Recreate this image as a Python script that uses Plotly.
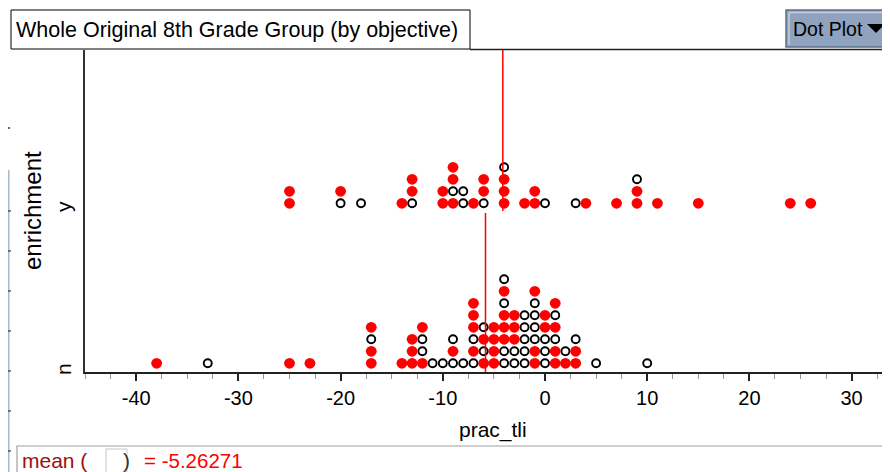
import plotly.graph_objects as go

# prac_tli dot plot split by enrichment; each stack string lists the dots
# at that value from bottom to top (r = red filled dot, o = open dot)
groups = ["n", "y"]

n_values = [-38, -33, -25, -23, -17, -14, -13, -12, -11, -10, -9, -8, -7,
            -6, -5, -4, -3, -2, -1, 0, 1, 2, 3, 5, 10]
n_stacks = ["r", "o", "r", "r", "rror", "r", "rrr", "roor", "o", "o", "oro", "o",
            "ororrr", "roro", "rrrr", "oorrroro", "oorrr", "ooooo", "rroooor",
            "ooorr", "rroror", "ro", "rro", "o", "o"]

y_values = [-25, -20, -18, -14, -13, -10, -9, -8, -7, -6, -4, -2, -1, 0, 3, 4,
            7, 9, 11, 15, 24, 26]
y_stacks = ["rr", "or", "o", "r", "orr", "rr", "rorr", "oo", "r", "orr", "rrro",
            "r", "rr", "o", "o", "r", "r", "rro", "r", "r", "r", "r"]

x_ticks = [-40, -30, -20, -10, 0, 10, 20, 30]
x_tick_labels = ["-40", "-30", "-20", "-10", "0", "10", "20", "30"]

# page geometry in window pixels; the html body adds an 8px margin,
# so the figure itself starts at (8, 8)
OFF = 8
W, H = 890 - OFF, 472 - OFF
PLOT_L, PLOT_R, PLOT_T, PLOT_B = 85, 890, 50, 372
ZERO_PX, PX_PER_UNIT = 545, 10.22
BAND = 160
ROW0, ROW_STEP = 8.7, 12

FONT = "Liberation Sans, Arial, sans-serif"
RED = "#ff0000"


def px(x):
    return (x - OFF) / W


def py(y):
    return 1 - (y - OFF) / H


fig = go.Figure()

red_x, red_y, open_x, open_y = [], [], [], []
all_vals = []
means = []
for band, (vals, stacks) in enumerate([(n_values, n_stacks), (y_values, y_stacks)]):
    grp = []
    for v, st in zip(vals, stacks):
        for k, kind in enumerate(st):
            yy = band * BAND + ROW0 + k * ROW_STEP
            if kind == "r":
                red_x.append(v)
                red_y.append(yy)
            else:
                open_x.append(v)
                open_y.append(yy)
            grp.append(v)
    means.append(sum(grp) / len(grp))
    all_vals += grp

overall_mean = sum(all_vals) / len(all_vals)

fig.add_trace(go.Scatter(x=open_x, y=open_y, mode="markers", showlegend=False,
                         marker=dict(size=8, color="white",
                                     line=dict(color="black", width=1.9))))
fig.add_trace(go.Scatter(x=red_x, y=red_y, mode="markers", showlegend=False,
                         marker=dict(size=10.8, color=RED, line=dict(width=0))))

# group mean lines
for band, m in enumerate(means):
    y0 = band * BAND + (1 if band else 0)
    y1 = (band + 1) * BAND - 1 if band == 0 else PLOT_B - PLOT_T
    fig.add_shape(type="line", xref="x", yref="y", x0=m, x1=m, y0=y0, y1=y1,
                  line=dict(color=RED, width=1.5))

shapes = [
    # title box
    dict(type="rect", xref="paper", yref="paper", x0=px(11), x1=px(470),
         y0=py(49), y1=py(10), line=dict(color="black", width=1), fillcolor="white"),
    # top border line
    dict(type="line", xref="paper", yref="paper", x0=px(470), x1=px(890),
         y0=py(49.5), y1=py(49.5), line=dict(color="#222", width=1.5)),
    # Dot Plot button
    dict(type="rect", xref="paper", yref="paper", x0=px(786), x1=px(892),
         y0=py(47), y1=py(10), line=dict(color="#5d6d88", width=1.5),
         fillcolor="#8fa2be"),
    dict(type="line", xref="paper", yref="paper", x0=px(789), x1=px(892),
         y0=py(12.5), y1=py(12.5), line=dict(color="#c3cde0", width=1.5)),
    dict(type="line", xref="paper", yref="paper", x0=px(789), x1=px(789),
         y0=py(12.5), y1=py(45), line=dict(color="#c3cde0", width=1.5)),
    dict(type="path", xref="paper", yref="paper",
         path=f"M {px(867)},{py(24)} L {px(885)},{py(24)} L {px(876)},{py(33)} Z",
         fillcolor="black", line=dict(width=0)),
    # left ruler
    dict(type="line", xref="paper", yref="paper", x0=px(8.8), x1=px(8.8),
         y0=py(170), y1=py(472), line=dict(color="#a7b6d0", width=1.5)),
    # formula box
    dict(type="rect", xref="paper", yref="paper", x0=px(17), x1=px(893),
         y0=py(475), y1=py(446), line=dict(color="#a0a0a0", width=1.2),
         fillcolor="white"),
    dict(type="rect", xref="paper", yref="paper", x0=px(106), x1=px(127),
         y0=py(474), y1=py(449), line=dict(color="#c8c8c8", width=1),
         fillcolor="rgba(0,0,0,0)"),
]
for yy in [211, 251, 291, 331, 371, 411, 451]:
    shapes.append(dict(type="line", xref="paper", yref="paper", x0=px(8), x1=px(11),
                       y0=py(yy), y1=py(yy), line=dict(color="#333", width=1.2)))
shapes.append(dict(type="circle", xref="paper", yref="paper", x0=px(8), x1=px(10),
                   y0=py(129), y1=py(127), fillcolor="#333", line=dict(width=0)))
for s in shapes:
    fig.add_shape(**s)

ann = [
    dict(text="Whole Original 8th Grade Group (by objective)", x=px(14), y=py(30),
         xanchor="left", yanchor="middle", font=dict(size=21.5, color="black")),
    dict(text="Dot Plot", x=px(791), y=py(29), xanchor="left", yanchor="middle",
         font=dict(size=19.5, color="black")),
    dict(text="enrichment", x=px(32), y=py(211), xanchor="center", yanchor="middle",
         textangle=-90, font=dict(size=24, color="black")),
    dict(text="y", x=px(63), y=py(207), xanchor="center", yanchor="middle",
         textangle=-90, font=dict(size=21, color="black")),
    dict(text="n", x=px(63), y=py(369), xanchor="center", yanchor="middle",
         textangle=-90, font=dict(size=21, color="black")),
    dict(text="prac_tli", x=px(493), y=py(430), xanchor="center", yanchor="middle",
         font=dict(size=21, color="black")),
    dict(text="mean (", x=px(20), y=py(460), xanchor="left", yanchor="middle",
         font=dict(size=21, color="#9b1010")),
    dict(text=")", x=px(121), y=py(460), xanchor="left", yanchor="middle",
         font=dict(size=21, color="#333")),
    dict(text=f"= {overall_mean:.5f}", x=px(142), y=py(460), xanchor="left",
         yanchor="middle", font=dict(size=20.5, color=RED)),
]
for a in ann:
    fig.add_annotation(xref="paper", yref="paper", showarrow=False, **a)

x0 = (PLOT_L - ZERO_PX) / PX_PER_UNIT
x1 = (PLOT_R - ZERO_PX) / PX_PER_UNIT

fig.update_layout(
    width=W, height=H,
    margin=dict(l=0, r=0, t=0, b=0),
    paper_bgcolor="white", plot_bgcolor="white",
    font=dict(family=FONT, color="black"),
    xaxis=dict(domain=[px(PLOT_L), 1], range=[x0, x1],
               tickvals=x_ticks, ticktext=x_tick_labels, ticks="outside",
               ticklen=7, tickwidth=1.5, tickcolor="#222", showline=True,
               linecolor="#222", linewidth=1.8, showgrid=False, zeroline=False,
               tickfont=dict(size=20),
               minor=dict(dtick=2.5, ticks="outside", ticklen=5, tickwidth=1.2,
                          tickcolor="#999", showgrid=False)),
    yaxis=dict(domain=[py(PLOT_B), py(PLOT_T)], range=[0, PLOT_B - PLOT_T],
               showline=True, linecolor="#333", linewidth=1.5, showgrid=False,
               zeroline=False, showticklabels=False, ticks=""),
)

fig.write_html("out.html")
